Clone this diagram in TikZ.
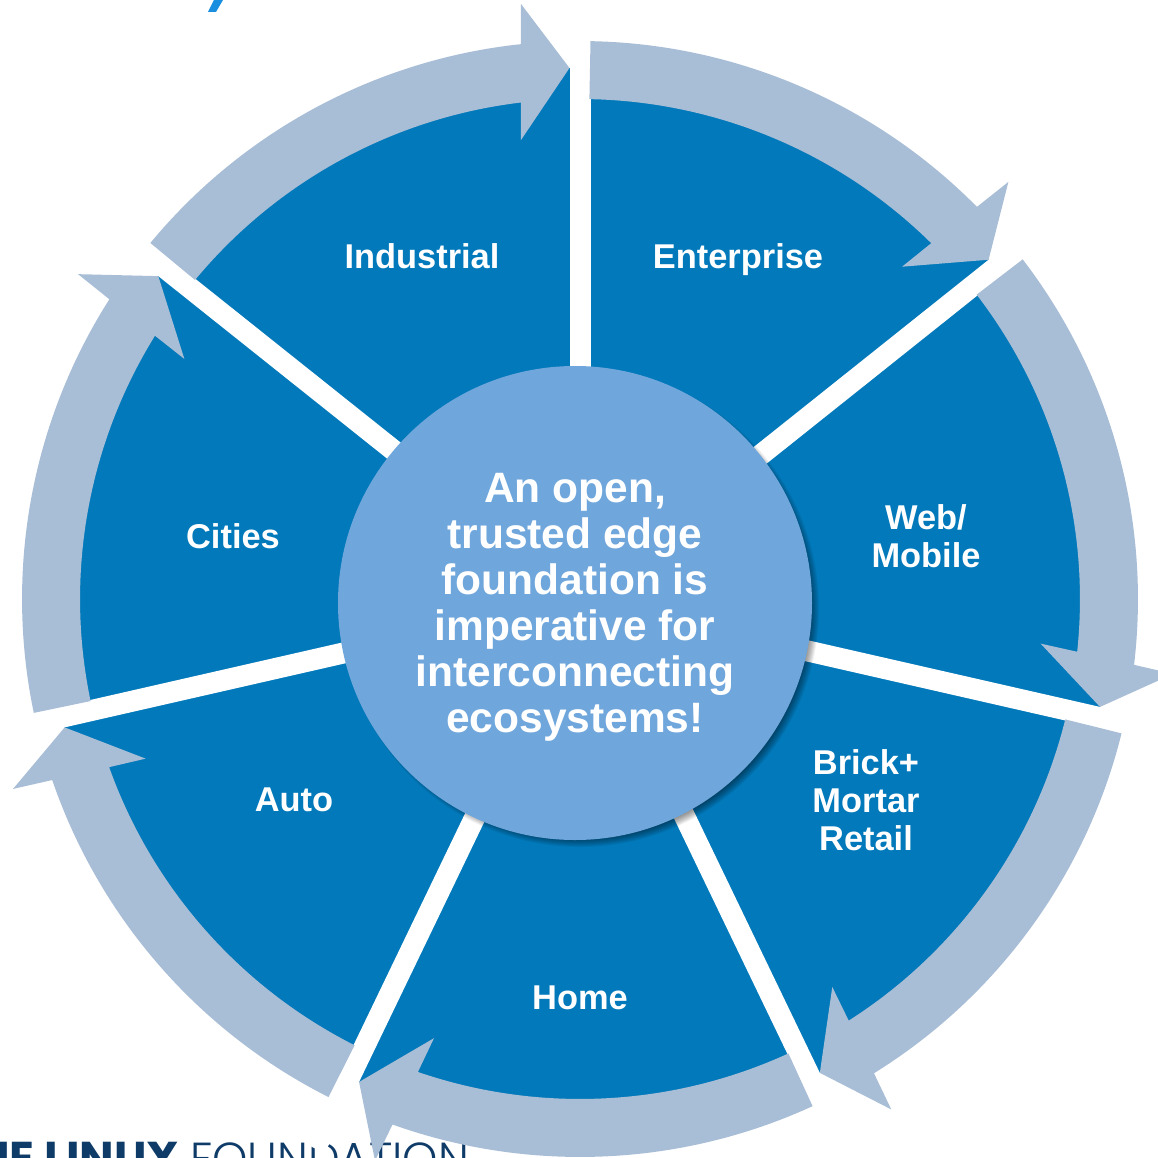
\documentclass[tikz,border=0pt]{standalone}
\usepackage{fontspec}
\setmainfont{Liberation Sans}
\newfontfamily\logolight{Poppins Light}
\newfontfamily\logobold{Poppins}[UprightFont=* Bold]
\definecolor{wheeldark}{HTML}{0279BA}
\definecolor{arrowlight}{HTML}{A8BDD6}
\definecolor{hubblue}{HTML}{6FA6DC}
\definecolor{titleblue}{HTML}{1A8FE0}
\definecolor{logonavy}{HTML}{0F3B68}
\tikzset{
  seclabel/.style={text=white,font=\fontsize{34.4}{38}\selectfont\bfseries,align=center,inner sep=0pt},
  hublabel/.style={text=white,font=\fontsize{42.5}{46}\selectfont\bfseries,align=center,inner sep=0pt},
  flow/.style={fill=arrowlight,draw=none},
  gapband/.style={fill=white,draw=none},
}
\begin{document}
\begin{tikzpicture}[x=1pt,y=1pt]
\useasboundingbox (-580,-558) rectangle (578,599);
\clip (-580,-558) rectangle (578,599);
\fill[white] (-580,-558) rectangle (578,599);
% cropped remains at the picture's edges
\fill[titleblue] (-372,587) -- (-364,587) -- (-357,599) -- (-366,599) -- cycle;
\node[anchor=base east,inner sep=0pt,text=logonavy,font=\fontsize{46}{46}\logobold] (logo) at (-400,-575) {THE LINUX};
\node[anchor=base west,inner sep=0pt,text=logonavy,font=\fontsize{44.9}{45}\logolight] (logotwo) at (-390,-575) {FOUNDATION};
% wheel
\fill[wheeldark] (0,0) circle (531);
\foreach \k in {0,...,6}{
  \begin{scope}[rotate=-51.4286*\k]
    \fill[gapband] (-10.5,0) rectangle (10.5,610);
  \end{scope}
}
% circular arrows
\foreach \k in {0,...,6}{
  \begin{scope}[rotate=-51.4286*\k]
    \fill[flow] (140.35:558) arc[start angle=140.35,end angle=96.08,radius=558]
      -- (-59,595) -- (-10.5,531) -- (-59,459)
      -- (96.8:500) arc[start angle=96.8,end angle=140.35,radius=500] -- cycle;
  \end{scope}
}
% hub with soft shadow
\foreach \i in {0,...,9}{
  \fill[black,opacity=0.05] (0,-9) circle ({239-\i*0.9});
}
\node[circle,fill=hubblue,minimum size=474pt,inner sep=0pt] (hub) at (-5,-4) {};
\node[hublabel] (hubtext) at (-5,-8) {An open,\\trusted edge\\foundation is\\imperative for\\interconnecting\\ecosystems!};
% sector labels
\node[seclabel] (industrial) at (-158,343) {Industrial};
\node[seclabel] (enterprise) at (158,339) {Enterprise};
\node[seclabel] (web) at (346,63) {Web/\\Mobile};
\node[seclabel] (brick) at (286,-201) {Brick+\\Mortar\\Retail};
\node[seclabel] (home) at (0,-399) {Home};
\node[seclabel] (auto) at (-286,-201) {Auto};
\node[seclabel] (cities) at (-347,63) {Cities};
\end{tikzpicture}
\end{document}
